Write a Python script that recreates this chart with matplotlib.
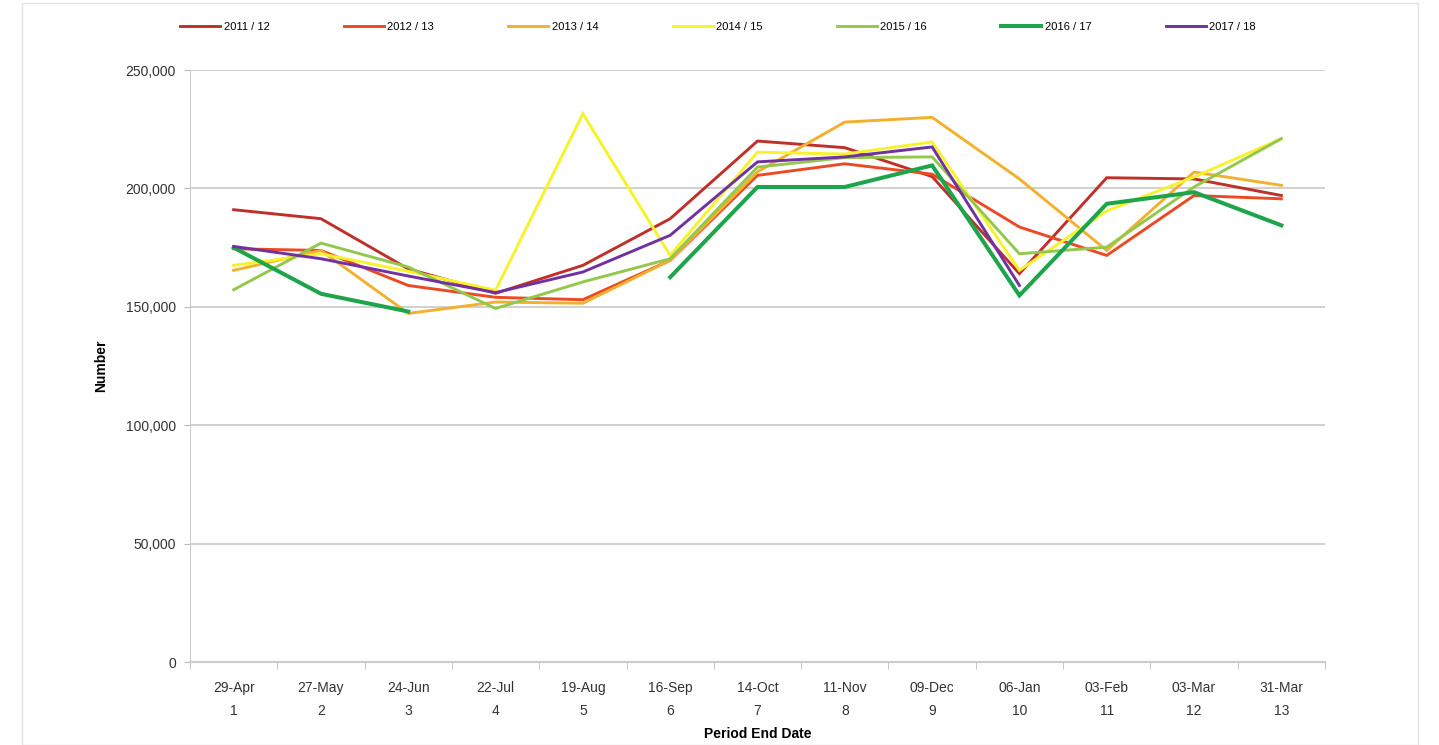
import numpy as np
import matplotlib
matplotlib.use('Agg')
import matplotlib.pyplot as plt
from matplotlib.ticker import FuncFormatter, FixedLocator
from matplotlib.patches import Rectangle

plt.rcParams['font.family'] = ['Liberation Sans Narrow', 'Liberation Sans', 'DejaVu Sans']

# ---------- data (thousands) ----------
periods = ['29-Apr', '27-May', '24-Jun', '22-Jul', '19-Aug', '16-Sep', '14-Oct',
           '11-Nov', '09-Dec', '06-Jan', '03-Feb', '03-Mar', '31-Mar']
period_no = list(range(1, 14))

y2011 = [191.0, 187.2, 166.0, 155.7, 167.5, 187.2, 220.0, 217.2, 205.0, 164.0, 204.5, 204.0, 197.0]
y2012 = [174.5, 173.8, 159.0, 154.0, 153.0, 169.6, 205.5, 210.4, 206.0, 183.7, 171.7, 197.0, 195.6]
y2013 = [165.4, 173.8, 147.2, 152.0, 151.5, 169.6, 207.0, 228.0, 230.0, 204.0, 173.8, 206.9, 201.3]
y2014 = [167.5, 172.4, 165.0, 157.0, 231.5, 171.7, 215.3, 214.5, 219.6, 165.4, 190.5, 204.8, 221.0]
y2015 = [157.2, 176.9, 166.8, 149.3, 160.5, 170.3, 209.0, 213.0, 213.3, 172.4, 175.2, 200.6, 221.0]
y2016 = [175.0, 155.5, 148.0, np.nan, np.nan, 162.5, 200.6, 200.6, 209.7, 154.8, 193.5, 198.4, 184.4]
y2017 = [175.5, 170.3, 163.0, 156.0, 164.7, 180.2, 211.2, 213.3, 217.5, 159.0, np.nan, np.nan, np.nan]

series_names = ['2011 / 12', '2012 / 13', '2013 / 14', '2014 / 15', '2015 / 16', '2016 / 17', '2017 / 18']
series_vals = [y2011, y2012, y2013, y2014, y2015, y2016, y2017]
colors = ['#C0302A', '#EC4A25', '#F3B02E', '#F6F22C', '#93C84C', '#1EA54C', '#7132A0']
widths = [2.1, 2.1, 2.1, 2.1, 2.1, 2.9, 2.1]

# ---------- figure ----------
fig = plt.figure(figsize=(14.39, 7.45), dpi=100)
ax = fig.add_axes([190 / 1439, 1 - 662 / 745, (1325 - 190) / 1439, (662 - 70) / 745])

# faint outer frame like the original screenshot
fig.patches.append(Rectangle((22 / 1439, 0), (1418 - 22) / 1439, 1 - 3 / 745,
                             transform=fig.transFigure, fill=False,
                             edgecolor='#E4E4E4', linewidth=1))

x = np.arange(len(periods))
handles = []
for name, vals, c, w in zip(series_names, series_vals, colors, widths):
    h, = ax.plot(x, np.array(vals) * 1000, color=c, linewidth=w, label=name,
                 solid_joinstyle='miter')
    handles.append(h)

ax.set_xlim(-0.5, len(periods) - 0.5)
ax.set_ylim(0, 250000)
ax.set_yticks(np.arange(0, 250001, 50000))
ax.yaxis.set_major_formatter(FuncFormatter(lambda v, p: f'{int(v):,}'))
ax.grid(axis='y', color='#C8C8C8', linewidth=1.2)
ax.set_axisbelow(True)

ax.set_xticks(x)
ax.set_xticklabels([f'{d}\n{n}' for d, n in zip(periods, period_no)],
                   fontsize=10, color='#333333', linespacing=1.8)
ax.xaxis.set_minor_locator(FixedLocator(np.arange(-0.5, len(periods), 1)))
ax.tick_params(axis='x', which='major', length=0, pad=14)
ax.tick_params(axis='x', which='minor', length=5, color='#BBBBBB')
ax.tick_params(axis='y', length=4, color='#BBBBBB', labelsize=10, labelcolor='#333333', pad=6)

for s in ['top', 'right']:
    ax.spines[s].set_visible(False)
ax.spines['left'].set_color('#CCCCCC')
ax.spines['bottom'].set_color('#CCCCCC')
ax.spines['bottom'].set_linewidth(1.5)

ax.set_ylabel('Number', fontsize=10, fontweight='bold', labelpad=13)
ax.set_xlabel('Period End Date', fontsize=10, fontweight='bold', labelpad=6)

fig.legend(handles=handles, loc='center', bbox_to_anchor=(718 / 1439, 1 - 27 / 745),
           ncol=7, frameon=False, fontsize=8, handlelength=3.6,
           handletextpad=0.3, columnspacing=6.7)

fig.savefig('out.png', dpi=100, facecolor='white')
